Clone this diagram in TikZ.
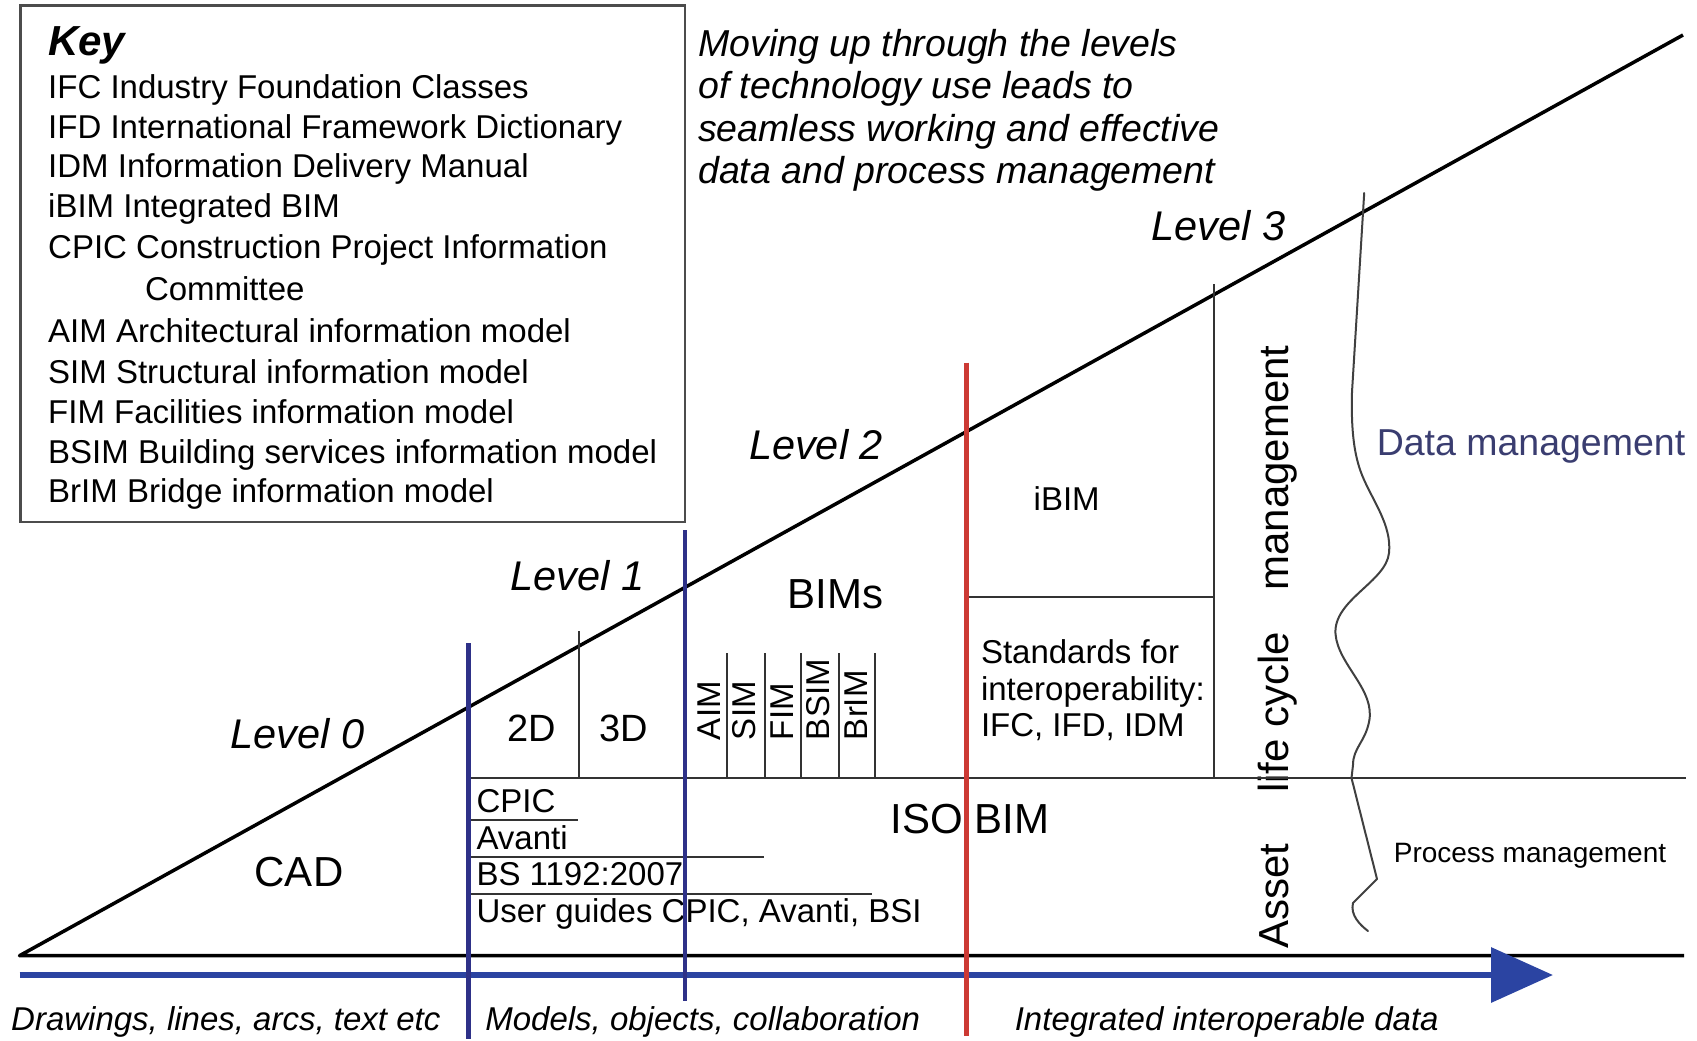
\documentclass[tikz,border=0pt]{standalone}
\usepackage{fontspec}
\setmainfont{Liberation Sans}
\usetikzlibrary{arrows.meta}
\definecolor{navy}{HTML}{2E3188}
\definecolor{arrowblue}{HTML}{2B44A2}
\definecolor{redc}{HTML}{CC3A34}
\definecolor{datablue}{HTML}{3A3D70}
\newcommand\fsz[1]{\fontsize{#1}{#1}\selectfont}
\begin{document}
\begin{tikzpicture}[x=1pt,y=-1pt,
  lbl/.style={inner sep=0pt, outer sep=0pt, anchor=base},
  lblw/.style={inner sep=0pt, outer sep=0pt, anchor=base west},
  keytxt/.style={lblw, font=\fsz{33}},
  slogan/.style={lblw, font=\fsz{37.5}\itshape},
  levellbl/.style={lbl, font=\fsz{41.5}\itshape},
  big/.style={lbl, font=\fsz{42}},
  mid/.style={lbl, font=\fsz{33}},
  midw/.style={lblw, font=\fsz{33}},
  era/.style={lbl, font=\fsz{33}\itshape},
  vlbl/.style={inner sep=0pt, outer sep=0pt, rotate=90, anchor=west, font=\fsz{33}},
  lcm/.style={inner sep=0pt, outer sep=0pt, rotate=90, anchor=base, font=\fsz{42}},
  heavy/.style={line width=3.5pt, black, line join=round},
  thinline/.style={line width=2pt, black!80},
  navyline/.style={line width=4.5pt, navy},
  redline/.style={line width=4.5pt, redc},
  wave/.style={line width=2pt, black!75, line join=round, line cap=round},
  keybox/.style={line width=2.7pt, black!70},
]
\useasboundingbox (0,0) rectangle (1697,1041);

% ---- key box ----
\draw[keybox] (20.5,5.5) rectangle (685,522);
\node[lblw, font=\fsz{42}\bfseries\itshape] (keyhead) at (48.2,55.7) {Key};
\foreach \x/\y/\t [count=\i] in {
  48.2/98/IFC Industry Foundation Classes,
  48.2/138.5/IFD International Framework Dictionary,
  48.2/177.5/IDM Information Delivery Manual,
  48.2/217/iBIM Integrated BIM,
  48.2/258.5/CPIC Construction Project Information,
  145/300.5/Committee,
  48.2/342.5/AIM Architectural information model,
  48.2/383/SIM Structural information model,
  48.2/423.5/FIM Facilities information model,
  48.2/463/BSIM Building services information model,
  48.2/502/BrIM Bridge information model}
  \node[keytxt] (key\i) at (\x,\y) {\t};

% ---- statement ----
\node[slogan] (s1) at (698.2,56.7) {Moving up through the levels};
\node[slogan] (s2) at (698.2,98.8) {of technology use leads to};
\node[slogan] (s3) at (698.2,141) {seamless working and effective};
\node[slogan] (s4) at (698.2,183.3) {data and process management};

% ---- level labels ----
\node[levellbl] (lv0) at (297.5,748.3) {Level 0};
\node[levellbl] (lv1) at (577.5,590) {Level 1};
\node[levellbl] (lv2) at (816,459) {Level 2};
\node[levellbl] (lv3) at (1218.3,240) {Level 3};

% ---- zone contents ----
\node[big] (cad) at (299,886.5) {CAD};
\node[lbl, font=\fsz{38}] (d2) at (532,741.7) {2D};
\node[lbl, font=\fsz{38}] (d3) at (623.6,741.7) {3D};
\node[big] (bims) at (835.5,608) {BIMs};
\node[big] (isobim) at (970,833) {ISO BIM};
\node[mid] (ibim) at (1066.7,510) {iBIM};

\node[vlbl] (aim) at (708.8,740) {AIM};
\node[vlbl] (sim) at (744.5,740) {SIM};
\node[vlbl] (fim) at (782,740) {FIM};
\node[vlbl] (bsim) at (818.6,740) {BSIM};
\node[vlbl] (brim) at (856.1,740) {BrIM};

\node[midw] (cpic) at (476.5,812.4) {CPIC};
\node[midw] (avanti) at (476.5,849) {Avanti};
\node[midw] (bs) at (476.5,885.4) {BS 1192:2007};
\node[midw] (guides) at (476.5,922.5) {User guides CPIC, Avanti, BSI};

\node[midw] (std1) at (981,663.3) {Standards for};
\node[midw] (std2) at (981,700) {interoperability:};
\node[midw] (std3) at (981,736.7) {IFC, IFD, IDM};

\node[lcm] (asset) at (1288,896) {Asset};
\node[lcm] (life) at (1288,766) {life};
\node[lcm] (cycle) at (1288,680) {cycle};
\node[lcm] (mgmt) at (1288,468) {management};

\node[lbl, font=\fsz{37.5}, text=datablue] (datam) at (1531,455) {Data management};
\node[lbl, font=\fsz{28}] (procm) at (1530,862) {Process management};

\node[era] (era0) at (225.8,1030) {Drawings, lines, arcs, text etc};
\node[era] (era1) at (702.7,1030) {Models, objects, collaboration};
\node[era] (era2) at (1226.7,1030) {Integrated interoperable data};

% ---- triangle and time axis ----
\coordinate (apex) at (19.5,955.7);
\coordinate (peak) at (1683,35);
\coordinate (baseR) at (1684,955.7);
\draw[heavy] (peak) -- (apex) -- (baseR);

\coordinate (arS) at (19.5,975);
\coordinate (arT) at (1553,975);
\draw[arrowblue, line width=6.7pt, -{Triangle[length=62pt,width=54pt]}] (arS) -- (arT);

% ---- inner grid ----
\draw[thinline] (468.6,778.2) -- (1686,778.2);
\draw[thinline] (579,631) -- (579,778.2);
\draw[thinline] (1214.3,284) -- (1214.3,778.2);
\draw[thinline] (966.5,597.4) -- (1214.3,597.4);
\foreach \x in {727.3,765.2,800.9,838.8,874.5}
  \draw[thinline] (\x,653) -- (\x,778.2);
\draw[thinline] (468.6,819.8) -- (578,819.8);
\draw[thinline] (468.6,857.2) -- (764,857.2);
\draw[thinline] (468.6,893.8) -- (871.5,893.8);

% ---- data / process management boundary ----
\draw[wave] (1364.2,193) -- (1352,392)
  .. controls (1351,430) and (1354,455) .. (1362,475)
  .. controls (1372,500) and (1392,525) .. (1389,553)
  .. controls (1386,582) and (1333,600) .. (1335.5,634)
  .. controls (1338,665) and (1376,690) .. (1369,722)
  .. controls (1365,742) and (1353,748) .. (1353,765)
  -- (1351.5,778) -- (1377,879) -- (1353,903)
  .. controls (1350,915) and (1360,925) .. (1368,931);

% ---- technology boundaries ----
\draw[navyline] (468.6,643) -- (468.6,1039);
\draw[navyline] (685,530) -- (685,1001);
\draw[redline] (966.5,362.6) -- (966.5,1035.8);
\end{tikzpicture}
\end{document}
